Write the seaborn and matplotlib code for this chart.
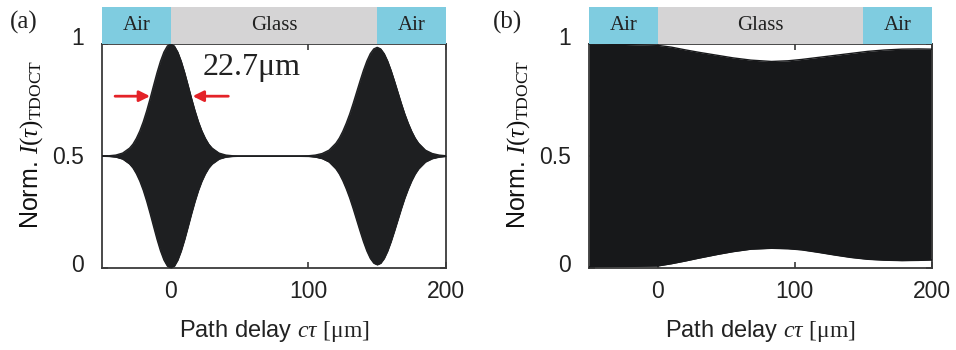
import matplotlib
matplotlib.use("Agg")
import matplotlib.pyplot as plt
import matplotlib.transforms as mtransforms
import seaborn as sns
import pandas as pd

# ---------------- data ----------------
# (a) fringe envelope (half-amplitude about the 0.5 mean level)
a_delay = [-50, -45, -40, -35, -30, -27.5, -25, -22.5, -20, -17.5, -15, -12.5, -10,
           -7.5, -5, -2.5, 0, 2.5, 5, 7.5, 10, 12.5, 15, 17.5, 20, 22.5, 25, 27.5,
           30, 35, 40, 45, 50, 60, 70, 80, 90, 100, 105, 110, 115, 120, 122.5, 125,
           127.5, 130, 132.5, 135, 137.5, 140, 142.5, 145, 147.5, 150, 152.5, 155,
           157.5, 160, 162.5, 165, 167.5, 170, 172.5, 175, 177.5, 180, 185, 190,
           195, 200]
a_amp = [0.000, 0.001, 0.004, 0.013, 0.035, 0.053, 0.079, 0.112, 0.153, 0.202, 0.257,
         0.315, 0.372, 0.423, 0.464, 0.491, 0.500, 0.491, 0.464, 0.423, 0.372, 0.315,
         0.257, 0.202, 0.153, 0.112, 0.079, 0.053, 0.035, 0.013, 0.004, 0.001, 0.000,
         0.000, 0.000, 0.000, 0.000, 0.001, 0.004, 0.011, 0.026, 0.057, 0.080, 0.110,
         0.146, 0.187, 0.234, 0.284, 0.334, 0.382, 0.424, 0.457, 0.478, 0.485, 0.478,
         0.457, 0.424, 0.382, 0.334, 0.284, 0.234, 0.187, 0.146, 0.110, 0.080, 0.057,
         0.026, 0.011, 0.004, 0.001]
a_mean = 0.5
fwhm_label = "22.7μm"

# (b) upper / lower fringe envelope
b_delay = [-50, -25, 0, 10, 20, 30, 44, 55, 68, 83, 95, 105, 117, 129, 141, 153, 165,
           178, 190, 200]
b_upper = [1.000, 0.998, 0.994, 0.986, 0.974, 0.963, 0.949, 0.938, 0.928, 0.922, 0.925,
           0.931, 0.940, 0.949, 0.958, 0.967, 0.973, 0.977, 0.978, 0.977]
b_lower = [0.006, 0.007, 0.009, 0.019, 0.031, 0.044, 0.061, 0.073, 0.084, 0.088, 0.086,
           0.081, 0.070, 0.058, 0.047, 0.039, 0.035, 0.033, 0.034, 0.036]

# medium layers along the delay axis
layer_names = ["Air", "Glass", "Air"]
layer_start = [-50, 0, 150]
layer_end = [0, 150, 200]
layer_colors = ["#7FCCE0", "#D5D4D5", "#7FCCE0"]

x_ticks = [0, 100, 200]
y_ticks = [0, 0.5, 1]
y_ticklabels = ["0", "0.5", "1"]
# small upward nudges (pixels) of the y tick labels
y_label_lift = [5, 1, 8]

# ---------------- style ----------------
sns.set_theme(style="white")
plt.rcParams["font.family"] = ["Liberation Sans", "DejaVu Sans"]
plt.rcParams["mathtext.fontset"] = "custom"
plt.rcParams["mathtext.rm"] = "Liberation Serif"
plt.rcParams["mathtext.it"] = "Liberation Serif:italic"
plt.rcParams["mathtext.bf"] = "Liberation Serif:bold"

W, H = 956, 350
fig = plt.figure(figsize=(W / 100, H / 100), dpi=100)

def fx(px):
    return px / W

def fy(py):
    return 1 - py / H

panels = [
    dict(left=102, right=446, top=44, bottom=268, bar_top=7, tag="(a)", tag_x=10),
    dict(left=589, right=932, top=44, bottom=268, bar_top=7, tag="(b)", tag_x=493),
]

spine_col = "#3a3a3a"
text_col = "#222222"
xlabel_txt = r"Path delay $c\tau$ $[\mathrm{μm}]$"
ylabel_txt = r"Norm. $\mathit{I}(\tau)_{\mathrm{TDOCT}}$"

axes = []
for p in panels:
    ax = fig.add_axes([fx(p["left"]), fy(p["bottom"]), fx(p["right"] - p["left"]),
                       (p["bottom"] - p["top"]) / H])
    bar = fig.add_axes([fx(p["left"]), fy(p["top"]), fx(p["right"] - p["left"]),
                        (p["top"] - p["bar_top"]) / H])
    # layer strip
    for name, s, e, c in zip(layer_names, layer_start, layer_end, layer_colors):
        bar.axvspan(s, e, color=c, lw=0)
        bar.text((s + e) / 2, 0.5, name, ha="center", va="center", fontsize=15,
                 family="Liberation Serif", color=text_col)
    bar.set_xlim(-50, 200)
    bar.set_ylim(0, 1)
    bar.set_xticks([])
    bar.set_yticks([])
    for sp in bar.spines.values():
        sp.set_visible(False)

    ax.set_xlim(-50, 200)
    ax.set_ylim(0, 1)
    ax.set_xticks(x_ticks)
    ax.set_yticks(y_ticks)
    ax.set_yticklabels(y_ticklabels)
    ax.tick_params(direction="in", length=4, width=1.2, color=spine_col,
                   top=True, right=True, bottom=True, left=True,
                   labelsize=16.5, labelcolor=text_col)
    ax.tick_params(axis="y", pad=13)
    ax.tick_params(axis="x", pad=9)
    for lab, lift in zip(ax.get_yticklabels(), y_label_lift):
        lab.set_transform(lab.get_transform() +
                          mtransforms.ScaledTranslation(0, lift / 100, fig.dpi_scale_trans))
    for sp in ax.spines.values():
        sp.set_color(spine_col)
        sp.set_linewidth(1.3)
    fig.text(fx(p["tag_x"]), fy(22), p["tag"], ha="left", va="center", fontsize=18,
             family="Liberation Serif", color=text_col)
    axes.append(ax)

# ---------------- (a) ----------------
ax = axes[0]
df_a = pd.DataFrame({"delay": a_delay, "amp": a_amp})
df_a["upper"] = a_mean + df_a["amp"]
df_a["lower"] = a_mean - df_a["amp"]
ax.fill_between(df_a["delay"], df_a["lower"], df_a["upper"], color="#1E1F21", lw=0.6,
                edgecolor="#1E1F21", zorder=2)
sns.lineplot(data=df_a, x="delay", y="upper", ax=ax, color="#1E1F21", lw=1.0, zorder=3)
sns.lineplot(data=df_a, x="delay", y="lower", ax=ax, color="#1E1F21", lw=1.0, zorder=3)

# FWHM marker
red = "#E42228"
for tip, tail in [(-15.1, -40.5), (15.9, 41.8)]:
    ax.annotate("", xy=(tip, 0.767), xytext=(tail, 0.767),
                arrowprops=dict(arrowstyle="-|>", color=red, lw=2, mutation_scale=16,
                                shrinkA=0, shrinkB=0),
                zorder=5)
ax.text(23.4, 0.897, fwhm_label, ha="left", va="center", fontsize=23,
        family="Liberation Serif", color=text_col)

# ---------------- (b) ----------------
ax = axes[1]
df_b = pd.DataFrame({"delay": b_delay, "upper": b_upper, "lower": b_lower})
ax.fill_between(df_b["delay"], df_b["lower"], df_b["upper"], color="#17181A", lw=0,
                zorder=2)
sns.lineplot(data=df_b, x="delay", y="upper", ax=ax, color="#17181A", lw=1.0, zorder=3)
sns.lineplot(data=df_b, x="delay", y="lower", ax=ax, color="#17181A", lw=1.0, zorder=3)

for ax in axes:
    ax.set_xlabel(xlabel_txt, fontsize=17, color=text_col)
    ax.set_ylabel(ylabel_txt, fontsize=18, color="#111111")
    ax.xaxis.set_label_coords(0.5, -0.222)
    ax.yaxis.set_label_coords(-0.165, 0.55)

fig.savefig("out.png", dpi=100)
